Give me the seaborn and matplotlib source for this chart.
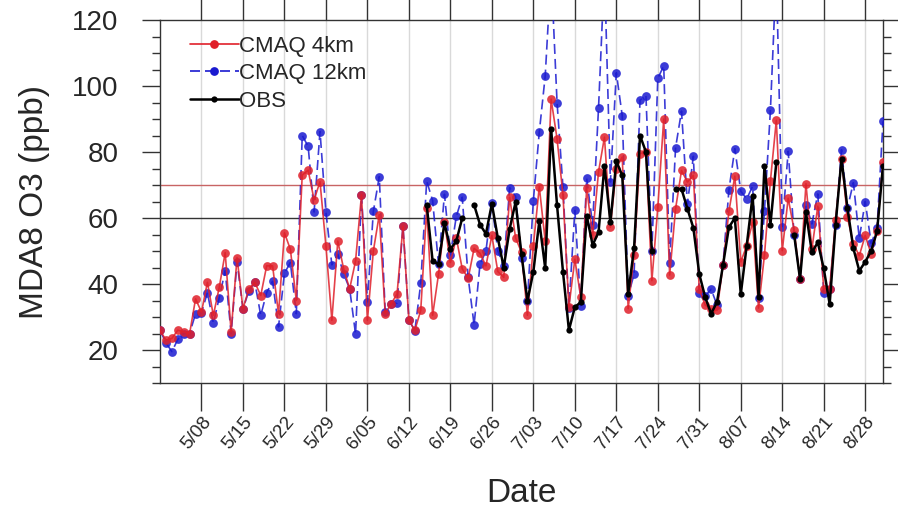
import numpy as np
import pandas as pd
import matplotlib
matplotlib.use("Agg")
import matplotlib.pyplot as plt
import matplotlib.dates as mdates
from matplotlib.ticker import MultipleLocator
from matplotlib.lines import Line2D
import seaborn as sns

# ---------------- data ----------------
start_date = "2013-05-01"
end_date = "2013-08-31"
tick_start = "2013-05-08"
n_ticks = 17

cmaq_4km = [26, 23, 23.5, 26, 25.5, 25, 35.5, 31.5, 40.5, 30.5, 39, 49.5, 25.5, 48, 32.5, 38.5,
            40.5, 36.5, 45.5, 45.5, 31, 55.5, 50.5, 35, 73, 74.5, 65.5, 71, 51.5, 29, 53,
            44.5, 38.5, 47, 67, 29, 50, 61, 31, 34, 37, 57.5, 29, 26, 32, 63, 30.5, 43, 58.7,
            46.5, 54, 44.6, 41.7, 50.8, 49.3, 45.5, 54.7, 43.8, 42, 66.3, 54, 49.6, 30.5, 51.6,
            69.5, 53, 96, 84, 67, 33, 47.5, 36, 69, 54.7, 74, 84.5, 57.2, 75, 78.5, 32.5, 48.8,
            79.5, 80, 41, 63.2, 90, 42.7, 62.8, 74.4, 70.9, 72.9, 38.4, 33.6, 32.4, 32, 45.7,
            62, 72.7, 46.7, 51.6, 58.7, 32.7, 48.8, 71.2, 89.6, 50.1, 66, 56.4, 41.5, 70.4,
            50.6, 63.6, 38.6, 38.6, 59.5, 77.8, 60.2, 52.1, 48.6, 54.7, 49.1, 56.2, 76.9]

cmaq_12km = [26, 22.2, 19.5, 23.2, 25, 25, 31, 31.3, 37.4, 28.1, 35.9, 44, 25, 46.8, 32.4, 38,
             40.5, 30.5, 37.4, 40.8, 27, 43.3, 46.5, 31, 85, 81.7, 61.8, 86.2, 61.8, 45.8, 49,
             43, 38.6, 24.8, 67, 34.6, 62, 72.5, 31.6, 34, 34.2, 57.5, 29.2, 25.8, 40.2, 71.2,
             65.3, 46, 67.2, 48.8, 60.5, 66.3, 42, 27.6, 46, 50, 64.5, 50, 45.5, 69.2, 66.5,
             48, 35, 65.3, 86, 103, 135, 95, 69.3, 32.8, 62.3, 33.4, 72, 58, 93.4, 135, 70.9,
             104, 91, 36.4, 43, 95.7, 97, 50, 102.3, 106.1, 46.3, 81.3, 92.4, 64.3, 78.7, 37.4,
             36.4, 38.4, 33.6, 45.7, 68.5, 81, 68.1, 65.8, 69.6, 35.9, 62.2, 92.6, 135, 57.4,
             80.2, 54.9, 41.5, 64, 58.2, 67.3, 37.4, 38.4, 57.9, 80.7, 63, 70.7, 53.8, 65, 52.3,
             57, 89.3]

nan = np.nan
obs = ([nan] * 45 +
       [64, 47, 46, 58.5, 50.6, 53, 60, nan, 64, 58, 55.2, 64.3, 54, 45, 56.7, 64.8,
        49, 34.9, 43.7, 59, 44.8, 87, 63.8, 43.7, 26, 33, 34.5, 60.7, 51.8, 55.7, 75.9,
        58.7, 77.2, 72.9, 36.9, 51, 85, 80, 50, nan, nan, nan, 68.8, 68.8, 62.8, 57, 43,
        36, 31, 34.6, 45.7, 57.2, 60, 36.9, 51.6, 66.8, 36, 75.9, 57.9, 76.9, nan, nan,
        55, 41.5, 61.7, 49.6, 52.6, 44.7, 33.9, 58, 78, 63, 50.8, 44, 46.7, 50, 56, 75.9])

series_names = ["CMAQ 4km", "CMAQ 12km", "OBS"]
ref_lines = [70, 60]

dates = pd.date_range(start_date, end_date, freq="D")
df = pd.DataFrame({"date": dates, "cmaq4": cmaq_4km, "cmaq12": cmaq_12km, "obs": obs})
# segment ids so that gaps in OBS stay as breaks
df["obs_seg"] = df["obs"].isna().cumsum()
obs_df = df.dropna(subset=["obs"])

# ---------------- style ----------------
sns.set_theme(style="white")
plt.rcParams["font.family"] = ["Liberation Sans", "DejaVu Sans"]

red = "#e0202a"
blue = "#1a1ad0"
black = "#000000"
ms = 6.3

fig = plt.figure(figsize=(8.98, 5.09), dpi=100)
ax = fig.add_axes([160 / 898, 1 - 383 / 509, 723 / 898, 363 / 509])

tick_dates = pd.date_range(tick_start, periods=n_ticks, freq="7D")
for td in tick_dates:
    ax.axvline(td, color="#d9d9d9", lw=1.0, zorder=0)

ax.axhline(ref_lines[0], color="#c86464", lw=1.0, zorder=1)
ax.axhline(ref_lines[1], color="#333333", lw=1.0, zorder=1)

sns.lineplot(data=df, x="date", y="cmaq12", ax=ax, color=blue, lw=1.2,
             linestyle=(0, (6, 3)), marker="o", markersize=ms, markeredgewidth=0,
             alpha=0.85, zorder=3)
sns.lineplot(data=df, x="date", y="cmaq4", ax=ax, color=red, lw=1.2,
             marker="o", markersize=ms, markeredgewidth=0, alpha=0.85, zorder=4)
sns.lineplot(data=obs_df, x="date", y="obs", units="obs_seg", estimator=None, ax=ax,
             color=black, lw=1.8, marker="o", markersize=4.5, markeredgewidth=0, zorder=5)

ax.set_xlim(dates[0], dates[-1])
ax.set_ylim(10, 120)
ax.set_xticks(tick_dates)
ax.xaxis.set_major_formatter(mdates.DateFormatter("%-m/%d"))
ax.yaxis.set_major_locator(MultipleLocator(20))
ax.yaxis.set_minor_locator(MultipleLocator(5))
ax.set_yticks([20, 40, 60, 80, 100, 120])

ax.tick_params(axis="x", which="major", direction="out", length=20, width=1,
               top=True, bottom=True, labeltop=False, labelsize=13.5, pad=2, color="#333333")
for lab in ax.get_xticklabels():
    lab.set_rotation(50)
    lab.set_ha("right")
    lab.set_va("top")
    lab.set_rotation_mode("anchor")
ax.tick_params(axis="y", which="major", direction="out", length=13, width=1,
               left=True, right=True, labelsize=20, pad=17, color="#333333")
ax.tick_params(axis="y", which="minor", direction="out", length=6, width=1,
               left=True, right=True, color="#333333")

for s in ax.spines.values():
    s.set_color("#333333")
    s.set_linewidth(1.0)

ax.set_xlabel("Date", fontsize=24)
ax.set_ylabel("MDA8 O3 (ppb)", fontsize=24)
ax.xaxis.set_label_coords(0.5, -0.262)
ax.xaxis.label.set_va("top")
ax.yaxis.set_label_coords(-0.152, 0.5)

handles = [
    Line2D([], [], color=red, lw=1.2, marker="o", markersize=ms, markeredgewidth=0),
    Line2D([], [], color=blue, lw=1.2, linestyle=(0, (6, 3)), marker="o", markersize=ms,
           markeredgewidth=0),
    Line2D([], [], color=black, lw=1.8, marker="o", markersize=4.5, markeredgewidth=0),
]
ax.legend(handles, series_names, loc="upper left", frameon=False, fontsize=16,
          handlelength=2.2, handletextpad=0.0, labelspacing=0.3,
          bbox_to_anchor=(0.02, 1.0), borderaxespad=0.3)

fig.savefig("out.png", dpi=100)
